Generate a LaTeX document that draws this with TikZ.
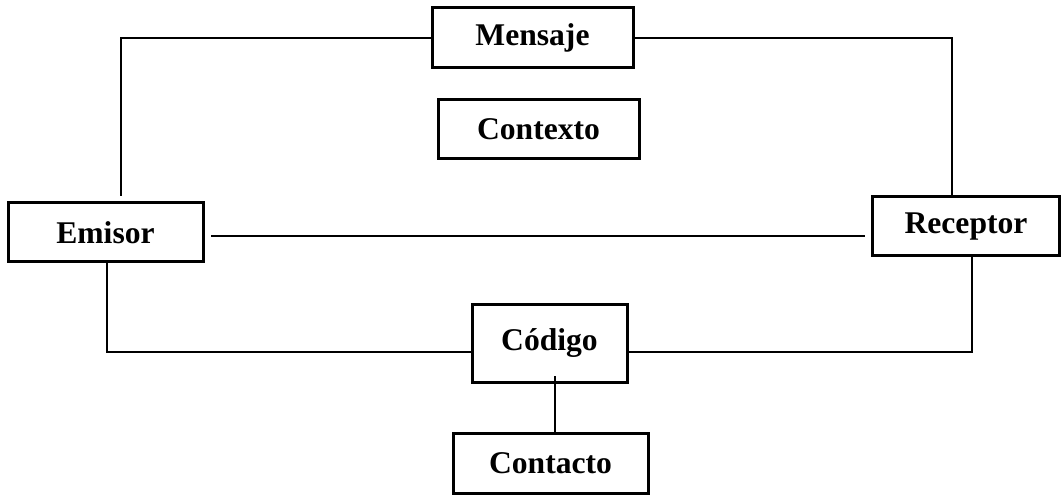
\documentclass[tikz,border=0pt]{standalone}
\usepackage{fontspec}
\setmainfont{Liberation Serif}
\usetikzlibrary{calc}
\begin{document}
\begin{tikzpicture}[x=0.5pt,y=-0.5pt,
  box/.style={draw,line width=1.5pt,rectangle,inner sep=0pt,font=\fontsize{15.8}{18}\selectfont\bfseries},
  conn/.style={line width=1pt}]
\useasboundingbox (0,0) rectangle (1063,496);
\node[box,minimum width=100.5pt,minimum height=30pt] (mensaje) at (532.5,38) {Mensaje};
\node[box,minimum width=100.5pt,minimum height=29.5pt] (contexto) at (538.5,129.5) {Contexto};
\node[box,minimum width=97.5pt,minimum height=29.5pt] (emisor) at (105.5,232.5) {Emisor};
\node[box,minimum width=93.5pt,minimum height=29.5pt] (receptor) at (966,226.5) {Receptor};
\node[box,minimum width=77.5pt,minimum height=39pt] (codigo) at (549.5,343) {Código};
\node[box,minimum width=97.5pt,minimum height=30pt] (contacto) at (550.5,463) {Contacto};
\coordinate (etop) at (121,196);
\coordinate (rtop) at (952,197);
\coordinate (lineA) at (211,236);
\coordinate (lineB) at (865,236);
\coordinate (ebot) at (107,262);
\coordinate (rbot) at (972,256);
\coordinate (cbot) at (555,376);
\coordinate (cw) at ($(codigo.west)+(0,9)$);
\coordinate (ce) at ($(codigo.east)+(0,9)$);
\draw[conn] (mensaje.west) -| (etop);
\draw[conn] (mensaje.east) -| (rtop);
\draw[conn] (lineA) -- (lineB);
\draw[conn] (ebot) |- (cw);
\draw[conn] (ce) -| (rbot);
\draw[conn] (cbot) -- (cbot |- contacto.north);
\end{tikzpicture}
\end{document}
